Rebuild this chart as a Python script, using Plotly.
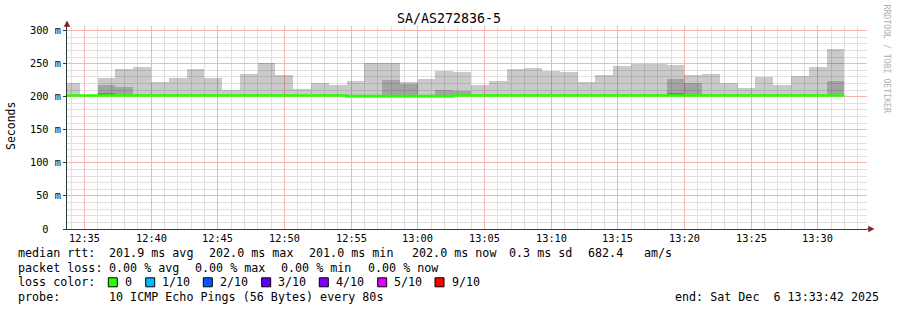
import math
import plotly.graph_objects as go
import pandas as pd

# ---------------- data ----------------
title = "SA/AS272836-5"
step_start = "2025-12-06 12:33:20"
step_seconds = 80
window = ["2025-12-06 12:33:42", "2025-12-06 13:33:42"]
y_max = 307

# median rtt per step (ms)
median_ms = [202, 202, 202, 202, 202, 202, 202, 202, 202, 202, 202,
             202, 202, 202, 202, 202, 201, 201, 201, 201, 201, 201,
             202, 202, 202, 202, 202, 202, 202, 202, 202, 202, 202,
             202, 202, 202, 202, 202, 202, 202, 202, 202, 202, 202]
# outer smoke top (max ping, ms)
smoke_outer = [221, None, 229, 242, 245.5, 222.7, 228.8, 242.4, 228.8, 210.6, 234.8,
               251.5, 233.3, 212.1, 221.2, 217.2, 224.2, 251.5, 251.5, 222.7, 227.3, 239.4,
               236.9, 218.2, 224.2, 242.4, 243.9, 239.4, 237.9, 222.7, 233.3, 247, 249,
               249, 248.5, 233.3, 234.8, 221.2, 213.6, 230.3, 218.2, 231.8, 245.5, 272.7]
# second smoke layer top (9th ping, ms)
smoke_inner = [None, None, 218, 215, None, None, None, None, None, None, None,
               None, None, None, None, None, None, None, 225.8, 218.7, None, 210.6,
               209, None, None, None, None, None, None, None, None, None, None,
               None, 227.3, 221.2, None, None, None, None, None, None, None, 224.2]
# third smoke layer top (8th ping, ms)
smoke_core = [None, None, 205.5, None, None, None, None, None, None, None, None,
              None, None, None, None, None, None, None, None, None, None, None,
              None, None, None, None, None, None, None, None, None, None, None,
              None, 206, None, None, None, None, None, None, None, None, None]

y_tick_vals = [0, 50, 100, 150, 200, 250, 300]
y_tick_text = ["0\u00a0\u00a0", "50 m", "100 m", "150 m", "200 m", "250 m", "300 m"]

stat_rtt = ["median rtt:", "201.9 ms avg", "202.0 ms max", "201.0 ms min",
            "202.0 ms now", "0.3 ms sd", "682.4", "am/s"]
stat_loss = ["packet loss:", "0.00 % avg", "0.00 % max", "0.00 % min", "0.00 % now"]
loss_labels = ["0", "1/10", "2/10", "3/10", "4/10", "5/10", "9/10"]
loss_colors = ["#26ff00", "#00b8ff", "#0059ff", "#5e00ff", "#7e00ff", "#dd00ff", "#ff0000"]
probe_text = "10 ICMP Echo Pings (56 Bytes) every 80s"
end_text = "end: Sat Dec  6 13:33:42 2025"

# ---------------- layout constants ----------------
W, H = 897, 310
L, R, T, B = 67, 30, 26, 81
PW, PH = W - L - R, H - T - B
FONT = "DejaVu Sans Mono"
AXIS_COL = "#2c3c38"
ARROW_COL = "#7f1f1f"
MINOR_GRID = "#e0e0e0"
MAJOR_GRID = "#f5b4b4"


def fx(px):
    return (px - L) / PW


def fy(py):
    return (H - B - py) / PH


times = pd.date_range(step_start, periods=len(median_ms), freq=f"{step_seconds}s")
width_ms = step_seconds * 1000

# ---- grid positions snapped to pixel centres (axis decoration only) ----
w0, w1 = pd.Timestamp(window[0]), pd.Timestamp(window[1])
span_s = (w1 - w0).total_seconds()


def snap_time(t):
    px = (t - w0).total_seconds() / span_s * PW
    px_a = math.floor(px) + 0.5
    return w0 + pd.Timedelta(seconds=px_a / PW * span_s)


def snap_val(v):
    py = v / y_max * PH
    py_a = math.floor(py) + 0.5
    return py_a / PH * y_max


grid_minutes = pd.date_range("2025-12-06 12:34:00", "2025-12-06 13:33:00", freq="60s")
x_major_t = [t for t in grid_minutes if t.minute % 5 == 0]
x_major = [snap_time(t) for t in x_major_t]
x_major_text = [t.strftime("%H:%M") for t in x_major_t]
x_minor = [snap_time(t) for t in grid_minutes if t.minute % 5 != 0]
y_major = [snap_val(v) if v > 0 else 0 for v in y_tick_vals]
y_minor = [snap_val(v) for v in range(0, 301, 10) if v % 50 != 0]


def diff(top, base):
    return [None if t is None else t - b for t, b in zip(top, base)]


fig = go.Figure()
for top, col in [(smoke_outer, "rgba(0,0,0,0.207)"),
                 (smoke_inner, "rgba(0,0,0,0.188)"),
                 (smoke_core, "rgba(0,0,0,0.232)")]:
    fig.add_trace(go.Bar(x=times, y=diff(top, median_ms), base=median_ms,
                         width=width_ms, offset=0, marker_color=col,
                         marker_line_width=0, hoverinfo="skip"))

line_x = list(times) + [times[-1] + pd.Timedelta(seconds=step_seconds)]
line_y = median_ms + [median_ms[-1]]
fig.add_trace(go.Scatter(x=line_x, y=line_y, mode="lines", line_shape="hv",
                         line=dict(color=loss_colors[0], width=2.6), hoverinfo="skip"))

fig.update_layout(
    width=W, height=H, margin=dict(l=L, r=R, t=T, b=B),
    paper_bgcolor="white", plot_bgcolor="white", showlegend=False,
    barmode="overlay", bargap=0,
    font=dict(family=FONT, size=11.7, color="black"),
)
fig.update_xaxes(
    type="date", range=window, tickmode="array", tickvals=x_major, ticktext=x_major_text,
    showgrid=True, gridcolor=MAJOR_GRID, gridwidth=1,
    minor=dict(tickmode="array", tickvals=x_minor, showgrid=True,
               gridcolor=MINOR_GRID, gridwidth=1),
    ticks="", ticklen=0,
    showline=True, linecolor=AXIS_COL, linewidth=1, zeroline=False,
    tickfont=dict(family=FONT, size=10.3, color="black"),
)
fig.update_yaxes(
    range=[0, y_max], tickmode="array", tickvals=y_major, ticktext=y_tick_text,
    showgrid=True, gridcolor=MAJOR_GRID, gridwidth=1,
    minor=dict(tickmode="array", tickvals=y_minor, showgrid=True,
               gridcolor=MINOR_GRID, gridwidth=1),
    ticks="outside", ticklen=3, tickcolor=AXIS_COL,
    showline=True, linecolor=AXIS_COL, linewidth=1, zeroline=False,
    tickfont=dict(family=FONT, size=10.3, color="black"),
)

ann = []


def text(px, py, s, size=11.7, xanchor="left", angle=0, color="black"):
    ann.append(dict(x=fx(px), y=fy(py), xref="paper", yref="paper", text=s,
                    showarrow=False, xanchor=xanchor, yanchor="middle",
                    textangle=angle, font=dict(family=FONT, size=size, color=color)))


text(448.5, 19, title, size=13.3, xanchor="center")
text(11, 126, "Seconds", size=11.5, xanchor="center", angle=-90)
text(886.5, 59, "RRDTOOL / TOBI OETIKER", size=8.2, xanchor="center", angle=90, color="#b0b0b0")

rtt_x = [16, 107, 207, 307, 410, 507, 586, 642]
for s, px in zip(stat_rtt, rtt_x):
    text(px, 253.5, s.replace(" ", "\u00a0"))
loss_x = [16, 107, 193.3, 279.3, 365.7]
for s, px in zip(stat_loss, loss_x):
    text(px, 268, s.replace(" ", "\u00a0"))
text(16, 282, "loss\u00a0color:")
box_x = [108.3, 145.7, 203.3, 261.7, 319.3, 377.7, 435]
shapes = []
for lab, col, bx in zip(loss_labels, loss_colors, box_x):
    shapes.append(dict(type="rect", xref="paper", yref="paper",
                       x0=fx(bx), x1=fx(bx + 9), y0=fy(286.8), y1=fy(277.8),
                       fillcolor=col, line=dict(color="black", width=1)))
    text(bx + 14.5, 282, lab)
text(16, 296.5, "probe:")
text(107, 296.5, probe_text.replace(" ", "\u00a0"))
text(881, 296.5, end_text.replace(" ", "\u00a0"), xanchor="right")

# axis arrows
shapes.append(dict(type="line", xref="paper", yref="paper", x0=0, x1=0,
                   y0=1, y1=fy(22.5), line=dict(color=AXIS_COL, width=1)))
shapes.append(dict(type="path", xref="paper", yref="paper",
                   path=f"M {fx(67)},{fy(21)} L {fx(64.2)},{fy(26.5)} L {fx(69.8)},{fy(26.5)} Z",
                   fillcolor=ARROW_COL, line=dict(color=ARROW_COL, width=0.5)))
shapes.append(dict(type="line", xref="paper", yref="paper", x0=1, x1=fx(869),
                   y0=0, y1=0, line=dict(color=AXIS_COL, width=1)))
shapes.append(dict(type="path", xref="paper", yref="paper",
                   path=f"M {fx(874)},{fy(229)} L {fx(868.5)},{fy(226.2)} L {fx(868.5)},{fy(231.8)} Z",
                   fillcolor=ARROW_COL, line=dict(color=ARROW_COL, width=0.5)))

fig.update_layout(annotations=ann, shapes=shapes)
fig.write_html("out.html")
